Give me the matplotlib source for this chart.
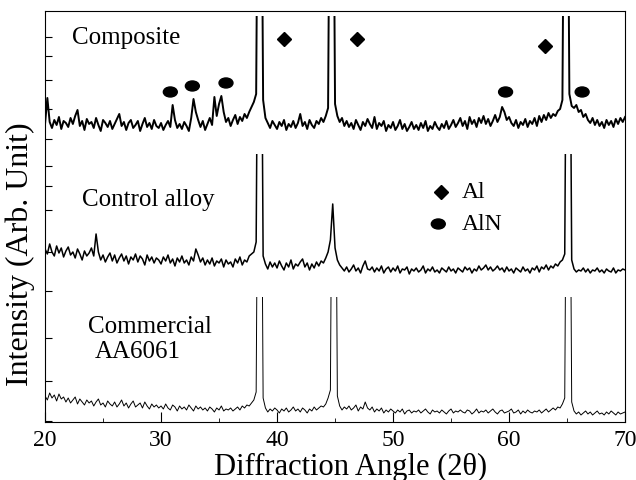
import matplotlib
matplotlib.use('Agg')
import matplotlib.pyplot as plt
from matplotlib.patches import Rectangle, Ellipse
import numpy as np

# XRD scans, 20-70 deg 2theta, one reading every 0.2 deg
angle_start, angle_step = 20.0, 0.2

composite = [
    18, 44, 20, 14, 22, 17, 25, 13, 21, 19,
    15, 24, 18, 26, 32, 16, 21, 12, 23, 18,
    20, 14, 24, 17, 11, 22, 19, 15, 21, 13,
    18, 23, 28, 16, 20, 12, 19, 22, 14, 17,
    21, 11, 18, 24, 15, 19, 13, 22, 16, 14,
    19, 12, 17, 21, 15, 37, 22, 14, 18, 13,
    20, 16, 11, 24, 43, 30, 22, 15, 21, 12,
    18, 24, 17, 45, 26, 38, 46, 30, 20, 24,
    16, 22, 27, 18, 25, 21, 28, 24, 30, 35,
    40, 48, 400, 400, 42, 24, 19, 14, 21, 17,
    13, 20, 16, 22, 12, 18, 15, 21, 14, 19,
    28, 16, 20, 13, 22, 17, 14, 21, 18, 24,
    20, 26, 34, 400, 400, 38, 26, 20, 24, 16,
    21, 15, 19, 13, 22, 17, 12, 20, 16, 23,
    18, 14, 25, 13, 19, 16, 21, 11, 17, 14,
    20, 12, 16, 22, 13, 18, 11, 15, 20, 13,
    17, 12, 19, 14, 21, 11, 16, 13, 20, 15,
    12, 18, 14, 21, 13, 17, 22, 15, 19, 24,
    16, 21, 13, 25, 18, 22, 15, 24, 19, 26,
    18, 23, 16, 21, 27, 20, 25, 35, 30, 22,
    25, 19, 16, 22, 14, 20, 17, 23, 15, 21,
    18, 24, 16, 26, 20, 27, 22, 29, 24, 28,
    26, 31, 33, 42, 400, 400, 48, 36, 34, 37,
    30, 32, 25, 28, 22, 19, 24, 17, 22, 16,
    20, 14, 22, 17, 21, 15, 23, 18, 24, 20,
    25,
]

control = [
    33, 28, 38, 30, 26, 36, 29, 34, 25, 31,
    35, 27, 30, 24, 33, 28, 22, 31, 26, 29,
    34, 26, 48, 30, 22, 27, 20, 25, 29, 21,
    27, 19, 24, 28, 21, 26, 18, 25, 22, 28,
    20, 26, 23, 17, 27, 21, 25, 19, 24, 22,
    18, 25, 21, 27, 19, 23, 16, 24, 20, 26,
    19, 22, 17, 25, 21, 33, 27, 20, 24, 17,
    22, 18, 24, 16, 21, 19, 23, 15, 22, 18,
    20, 15, 23, 19, 25, 17, 22, 20, 26, 28,
    30, 40, 400, 400, 26, 18, 13, 20, 15, 19,
    14, 21, 16, 12, 19, 15, 22, 13, 18, 16,
    20, 23, 15, 19, 12, 18, 14, 20, 16, 21,
    19, 24, 30, 42, 78, 34, 22, 17, 14, 11,
    15, 10, 13, 17, 11, 14, 9, 16, 21, 13,
    12, 15, 10, 14, 11, 16, 9, 13, 15, 10,
    14, 11, 16, 9, 13, 12, 15, 8, 13, 11,
    14, 10, 12, 16, 9, 13, 11, 15, 10, 12,
    9, 14, 12, 10, 15, 11, 13, 9, 14, 12,
    10, 15, 12, 14, 9, 13, 11, 16, 12, 14,
    17, 12, 15, 11, 13, 16, 12, 14, 10, 15,
    11, 13, 9, 14, 12, 10, 15, 11, 13, 9,
    14, 12, 16, 10, 15, 13, 17, 12, 16, 14,
    18, 16, 20, 22, 28, 400, 400, 22, 13, 10,
    12, 11, 14, 10, 13, 9, 12, 11, 14, 10,
    12, 9, 13, 11, 10, 14, 9, 12, 11, 13,
    12,
]

commercial = [
    26, 22, 29, 24, 27, 21, 28, 23, 25, 20,
    24, 19, 22, 25, 18, 23, 20, 17, 22, 19,
    21, 16, 20, 23, 17, 19, 15, 21, 18, 16,
    20, 15, 18, 22, 16, 19, 14, 18, 21, 15,
    17, 19, 14, 20, 16, 13, 18, 15, 17, 14,
    16, 13, 18, 14, 12, 17, 15, 11, 16, 13,
    15, 12, 17, 14, 11, 16, 13, 15, 12, 14,
    11, 15, 13, 10, 14, 12, 16, 11, 13, 12,
    14, 11, 13, 15, 12, 16, 14, 17, 16, 19,
    22, 30, 400, 400, 24, 14, 10, 13, 11, 14,
    12, 9, 13, 11, 14, 10, 12, 15, 11, 13,
    10, 14, 12, 9, 13, 11, 15, 12, 14, 16,
    15, 18, 24, 32, 400, 400, 26, 16, 12, 15,
    13, 16, 12, 14, 17, 11, 15, 13, 20, 14,
    12, 15, 10, 13, 11, 14, 9, 12, 10, 13,
    11, 9, 12, 10, 13, 8, 11, 12, 9, 11,
    10, 12, 9, 11, 13, 10, 8, 12, 10, 11,
    9, 12, 10, 8, 11, 13, 9, 11, 10, 12,
    10, 9, 12, 11, 8, 10, 13, 9, 11, 10,
    12, 9, 11, 13, 10, 8, 11, 12, 9, 10,
    11, 13, 9, 10, 12, 8, 11, 9, 12, 10,
    9, 11, 10, 12, 9, 11, 13, 10, 12, 14,
    12, 15, 14, 18, 24, 400, 400, 20, 11, 8,
    10, 7, 9, 11, 8, 10, 7, 9, 11, 8,
    9, 7, 10, 8, 11, 9, 7, 10, 8, 9,
    10,
]

# phase markers
al_angles = [40.6, 46.9, 63.1]
al_heights = [383, 383, 376]
aln_angles = [30.8, 32.7, 35.6, 59.7, 66.3]
aln_heights = [330, 336, 339, 330, 330]

angles = angle_start + angle_step * np.arange(len(composite))

plt.rcParams['font.family'] = ['Liberation Serif', 'DejaVu Serif']

fig = plt.figure(figsize=(6.36, 4.81), dpi=100)
ax = fig.add_axes([0.0708, 0.1206, 0.912, 0.8545])

# (trace, vertical offset, clip top, line width)
traces = [
    (composite, 280, 406, 1.4),
    (control, 140, 268, 1.1),
    (commercial, 0, 125, 0.7),
]
for vals, off, top, lw in traces:
    line, = ax.plot(angles, np.array(vals) + off, color='black', lw=lw)
    clip = Rectangle((20, -50), 50, top + 50, transform=ax.transData)
    line.set_clip_path(clip)

ax.plot(al_angles, al_heights, 'D', color='black', markersize=7.5)
for a, h in zip(aln_angles, aln_heights):
    ax.add_patch(Ellipse((a, h), 1.2, 10, color='black'))

# in-plot legend
ax.plot([54.1], [230], 'D', color='black', markersize=7.5)
ax.add_patch(Ellipse((53.9, 198), 1.2, 10, color='black'))
ax.text(55.9, 230, 'Al', fontsize=17, va='center')
ax.text(55.9, 198, 'AlN', fontsize=17, va='center')

ax.text(22.3, 385, 'Composite', fontsize=18, va='center')
ax.text(23.2, 223, 'Control alloy', fontsize=18, va='center')
ax.text(23.7, 96, 'Commercial', fontsize=18, va='center')
ax.text(24.3, 71, 'AA6061', fontsize=18, va='center')

ax.set_xlim(20, 70)
ax.set_ylim(0, 411)
ax.set_xticks([20, 30, 40, 50, 60, 70])
ax.set_xticks([25, 35, 45, 55, 65], minor=True)
ax.set_yticks([1, 41, 84, 131, 170, 212, 236, 256, 283, 313, 342, 366, 385])
ax.set_yticklabels([])
ax.tick_params(axis='x', which='major', direction='in', length=7, labelsize=17, pad=5)
ax.tick_params(axis='x', which='minor', direction='in', length=3)
ax.tick_params(axis='y', direction='in', length=5)
ax.set_xlabel('Diffraction Angle (2θ)', fontsize=22)
ax.xaxis.set_label_coords(0.526, -0.107)
ax.xaxis.label.set_va('center')
ax.set_ylabel('Intensity (Arb. Unit)', fontsize=23)
ax.yaxis.set_label_coords(-0.043, 0.41)
ax.yaxis.label.set_va('center')

fig.savefig('out.png', dpi=100)
